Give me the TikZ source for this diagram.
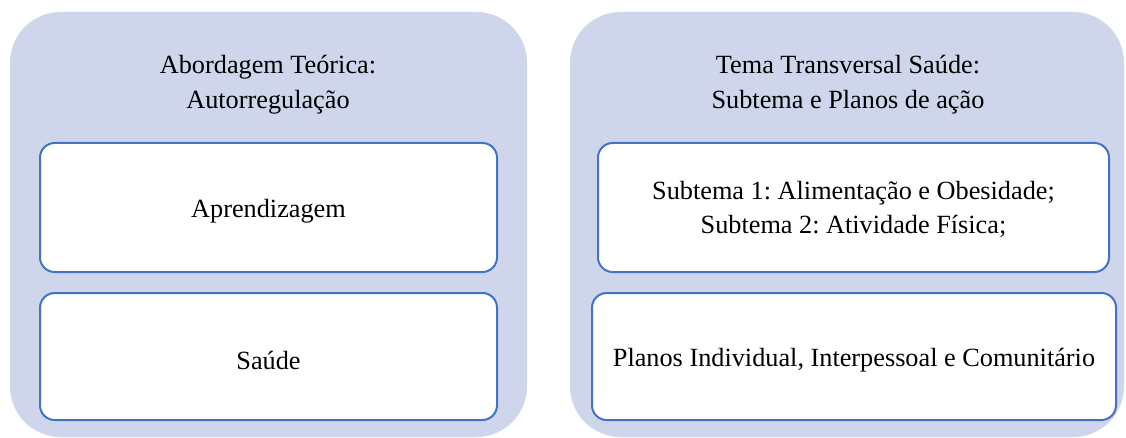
\documentclass[tikz,border=0pt]{standalone}
\usepackage{fontspec}
\setmainfont{Liberation Serif}
\frenchspacing
\definecolor{panelfill}{HTML}{CFD5EA}
\definecolor{boxline}{HTML}{4472C4}
\tikzset{
	panel/.style={fill=panelfill, rounded corners=38pt, inner sep=0pt},
	itembox/.style={draw=boxline, fill=white, line width=1.5pt, rounded corners=11pt, inner sep=0pt},
	boxtext/.style={align=center, yshift=-3pt},
	heading/.style={align=center}
}
\begin{document}
\begin{tikzpicture}[x=0.75pt, y=-0.75pt, font=\fontsize{19.7pt}{26pt}\selectfont, line join=round]
				\useasboundingbox (0,0) rectangle (1126,438);
				\node[panel, minimum width=387.75pt, minimum height=318.75pt] (PL) at (268.5,224.5) {};
				\node[panel, minimum width=415.5pt, minimum height=318.75pt] (PR) at (847,224.5) {};
				\node[heading] (TL) at (268,85) {Abordagem Teórica:\\Autorregulação};
				\node[heading] (TR) at (848,85) {Tema Transversal Saúde:\\Subtema e Planos de ação};
				\node[itembox, minimum width=342.75pt, minimum height=96.75pt] (A) at (268.5,207.5) {};
				\node[itembox, minimum width=342.75pt, minimum height=95.25pt] (S) at (268.5,356.5) {};
				\node[itembox, minimum width=383.25pt, minimum height=96.75pt] (T) at (853.5,207.5) {};
				\node[itembox, minimum width=393pt, minimum height=95.25pt] (P) at (854,356.5) {};
				\node[boxtext] (At) at (A) {Aprendizagem};
				\node[boxtext] (St) at (S) {Saúde};
				\node[boxtext, yshift=1.5pt] (Tt) at (T) {Subtema 1: Alimentação e Obesidade;\\Subtema 2: Atividade Física;};
				\node[boxtext] (Pt) at (P) {Planos Individual, Interpessoal e Comunitário};
			\end{tikzpicture}
\end{document}
